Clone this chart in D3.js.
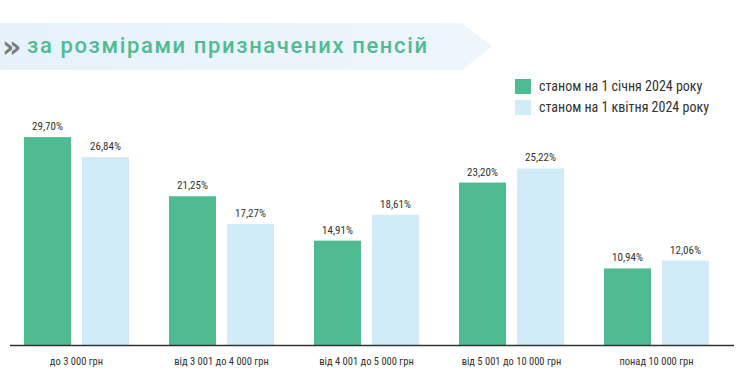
<!DOCTYPE html>
<html><head><meta charset="utf-8">
<script src="https://cdn.jsdelivr.net/npm/d3@7"></script>
<style>
html,body{margin:0;padding:0;background:#fff;}
svg{display:block;}
.cond{font-family:"Liberation Sans Narrow","Roboto Condensed","Liberation Sans",sans-serif;}
</style></head>
<body>
<svg id="chart" width="747" height="379"></svg>
<script>
const title = "за розмірами призначених пенсій";
const categories = ["до 3 000 грн","від 3 001 до 4 000 грн","від 4 001 до 5 000 грн","від 5 001 до 10 000 грн","понад 10 000 грн"];
const seriesNames = ["станом на 1 січня 2024 року","станом на 1 квітня 2024 року"];
const jan2024 = [29.70, 21.25, 14.91, 23.20, 10.94];
const apr2024 = [26.84, 17.27, 18.61, 25.22, 12.06];
const colors = ["#4fbb93","#d1ebf9"];

const svg = d3.select("#chart");

// title banner
const defs = svg.append("defs");
const grad = defs.append("linearGradient").attr("id","bg").attr("x1","0").attr("x2","1");
grad.append("stop").attr("offset","0").attr("stop-color","#e6f2fb");
grad.append("stop").attr("offset","1").attr("stop-color","#eef6fc");
svg.append("path").attr("d","M0,23 L462,23 L492,46.5 L462,70 L0,70 Z").attr("fill","url(#bg)");
svg.append("text").attr("x",2).attr("y",57).attr("fill","#7a7a7a")
  .attr("font-family","DejaVu Sans").attr("font-weight","bold").attr("font-size",30).text("»");
svg.append("text").attr("x",27).attr("y",53).attr("fill","#4fbb93")
  .attr("font-family","Roboto, 'DejaVu Sans', sans-serif").attr("font-weight","500")
  .attr("font-size",22).attr("textLength",400).attr("lengthAdjust","spacing").text(title);

// scales
const x0 = d3.scaleBand().domain(categories).range([4,729]).padding(0);
const x1 = d3.scaleBand().domain(seriesNames).range([20,125]).paddingInner(11/58).paddingOuter(0);
const y = d3.scaleLinear().domain([0,30]).range([345,135]);

const data = categories.map((c,i)=>({cat:c, vals:[jan2024[i], apr2024[i]]}));

const g = svg.append("g");
const groups = g.selectAll("g.grp").data(data).enter().append("g")
  .attr("transform",d=>`translate(${x0(d.cat)},0)`);
groups.selectAll("rect").data(d=>d.vals.map((v,j)=>({s:seriesNames[j], v, j}))).enter().append("rect")
  .attr("x",d=>x1(d.s)).attr("width",x1.bandwidth())
  .attr("y",d=>y(d.v)).attr("height",d=>y(0)-y(d.v))
  .attr("fill",d=>colors[d.j]);
groups.selectAll("text").data(d=>d.vals.map((v,j)=>({s:seriesNames[j], v, j}))).enter().append("text")
  .attr("class","cond")
  .attr("x",d=>x1(d.s)+x1.bandwidth()/2).attr("y",d=>y(d.v)-7)
  .attr("text-anchor","middle").attr("font-size",11).attr("fill","#333")
  .text(d=>d.v.toFixed(2).replace(".",",")+"%");

// axis
const xAxis = d3.axisBottom(x0).tickSize(0).tickPadding(13);
const ax = svg.append("g").attr("transform","translate(0,345)").call(xAxis);
ax.select(".domain").attr("d","M10,0.5H734").attr("stroke","#333").attr("stroke-width",1.5);
ax.selectAll("text").attr("class","cond").attr("font-size",10.5).attr("fill","#333");

// legend
const lg = svg.append("g");
seriesNames.forEach((s,i)=>{
  lg.append("rect").attr("x",515).attr("y",79+i*21).attr("width",16).attr("height",15).attr("fill",colors[i]);
  lg.append("text").attr("class","cond").attr("x",539).attr("y",91+i*21).attr("font-size",14).attr("fill","#333").text(s);
});
</script>
</body></html>
